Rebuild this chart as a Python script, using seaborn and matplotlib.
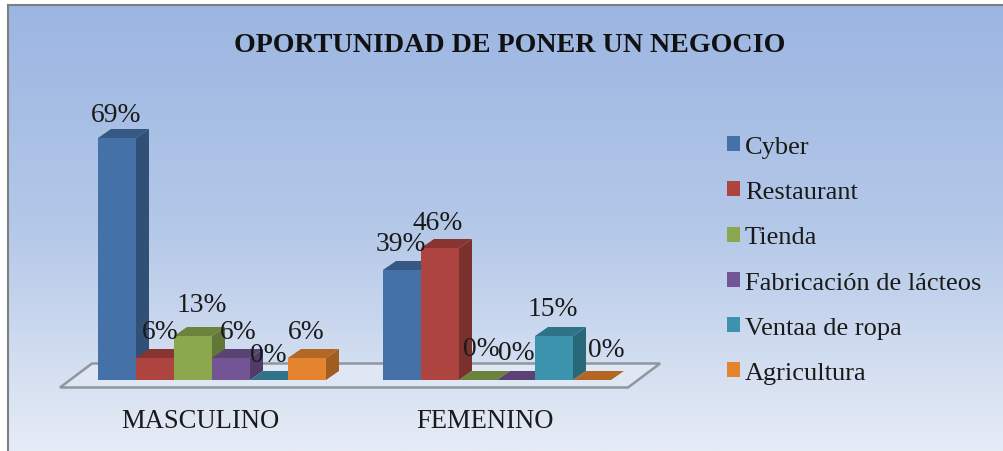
import numpy as np
import pandas as pd
import matplotlib
matplotlib.use("Agg")
import matplotlib.pyplot as plt
from matplotlib.colors import LinearSegmentedColormap, to_rgb
from matplotlib.patches import Polygon
from matplotlib.transforms import ScaledTranslation
import seaborn as sns

# counts behind the percentages: bar heights are 11/16, 5/13 etc
groups = ['MASCULINO', 'FEMENINO']
negocios = ['Cyber', 'Restaurant', 'Tienda', 'Fabricación de lácteos', 'Ventaa de ropa', 'Agricultura']
masculino = [11, 1, 2, 1, 0, 1]
femenino = [5, 6, 0, 0, 2, 0]
etiquetas_m = ['69%', '6%', '13%', '6%', '0%', '6%']
etiquetas_f = ['39%', '46%', '0%', '0%', '15%', '0%']
colores = ['#4472A8', '#AE443F', '#8BA84E', '#735596', '#3B93AD', '#E5842F']

# hand placed label offsets in pixels from the bar top, same as the original
offs_m = [(-1, 23), (5, 26), (9, 32), (7, 26), (-1, 25), (-1, 26)]
offs_f = [(-1, 26), (-2, 26), (3, 31), (0, 27), (-1, 27), (14, 30)]

W, H = 1004, 452
DX, DY = 13, 9  # 3d depth in pixels

sns.set_theme(style="white")
plt.rcParams['font.family'] = ['Liberation Serif', 'DejaVu Serif']

fig = plt.figure(figsize=(W / 100, H / 100), dpi=100, facecolor='white')

# background gradient panel, only left and top edges have a border
bg = fig.add_axes([8 / W, 0, (W - 8) / W, 1 - 6 / H])
cmap = LinearSegmentedColormap.from_list('fondo', ['#9CB6E2', '#B4C8E8', '#E6ECF6'])
bg.imshow(np.linspace(0, 1, 256).reshape(-1, 1), aspect='auto', cmap=cmap)
bg.set_xticks([])
bg.set_yticks([])
for s in bg.spines.values():
    s.set_color('#7F7F7F')
    s.set_linewidth(1.5)
bg.spines['bottom'].set_visible(False)
bg.spines['right'].set_visible(False)

# plot area: x so the groups land at 212 / 497 px, y 22 px per count
ax = fig.add_axes([69.5 / W, (H - 381) / H, 570 / W, 286 / H])
ax.patch.set_alpha(0)
df = pd.DataFrame({
    'grupo': np.repeat(groups, len(negocios)),
    'negocio': negocios * 2,
    'n': masculino + femenino,
})
sns.barplot(data=df, x='grupo', y='n', hue='negocio', hue_order=negocios, order=groups,
            palette=colores, saturation=1, width=0.8, gap=0, linewidth=0, ax=ax)
ax.set_xlim(-0.5, 1.5)
ax.set_ylim(0, 13)
ax.set_xlabel('')
ax.set_ylabel('')
ax.set_yticks([])
sns.despine(ax=ax, left=True, bottom=True)

# floor, in pixels
to_fig = matplotlib.transforms.Affine2D().scale(1, -1).translate(0, H)
piso = Polygon([(60, 388.5), (92, 364.5), (660, 364.5), (628, 388.5)], closed=True,
               facecolor='#DFE7F5', edgecolor='#8E969E', linewidth=1.8,
               transform=to_fig, zorder=0.5, clip_on=False)
ax.add_patch(piso)

# fake the 3d sides from the bars seaborn drew
def sombra(c, f):
    return tuple(v * f for v in to_rgb(c))

for j, cont in enumerate(ax.containers):
    color = colores[j]
    for i, bar in enumerate(cont.patches):
        x0, y0 = ax.transData.transform((bar.get_x(), 0))
        x1, y1 = ax.transData.transform((bar.get_x() + bar.get_width(), bar.get_height()))
        z = 2 + (i * 6 + j)
        top = Polygon([(x0, y1), (x0 + DX, y1 + DY), (x1 + DX, y1 + DY), (x1, y1)], closed=True,
                      facecolor=sombra(color, 0.78), edgecolor='none', transform=None, zorder=z)
        lado = Polygon([(x1, y0), (x1 + DX, y0 + DY), (x1 + DX, y1 + DY), (x1, y1)], closed=True,
                       facecolor=sombra(color, 0.7), edgecolor='none', transform=None, zorder=z)
        ax.add_artist(lado)
        ax.add_artist(top)
        bar.set_zorder(z + 0.5)
        etq = (etiquetas_m if i == 0 else etiquetas_f)[j]
        off = (offs_m if i == 0 else offs_f)[j]
        ax.annotate(etq, (bar.get_x() + bar.get_width() / 2, bar.get_height()),
                    xytext=off, textcoords='offset pixels', ha='center', va='center',
                    fontsize=19.8, color='#1A1A1A', zorder=100, annotation_clip=False)

# category labels sit a bit left of the group centre
ax.tick_params(axis='x', length=0, pad=20, labelsize=19.2, labelcolor='#1A1A1A')
shift = ScaledTranslation(-12 / 100, 0, fig.dpi_scale_trans)
for lab in ax.get_xticklabels():
    lab.set_transform(lab.get_transform() + shift)

handles, labels = ax.get_legend_handles_labels()
ax.legend(handles, labels, loc='upper left', bbox_to_anchor=(727 / W, 1 - 137 / H),
          bbox_transform=fig.transFigure, frameon=False, fontsize=19,
          handlelength=0.49, handleheight=0.49, handletextpad=0.19, labelspacing=0.88,
          labelcolor='#1A1A1A', borderpad=0, borderaxespad=0)

fig.text(510 / W, 1 - 45 / H, 'OPORTUNIDAD DE PONER UN NEGOCIO', ha='center', va='center',
         fontsize=20.2, fontweight='bold', color='#111111')

fig.savefig('out.png', dpi=100, facecolor='white')
